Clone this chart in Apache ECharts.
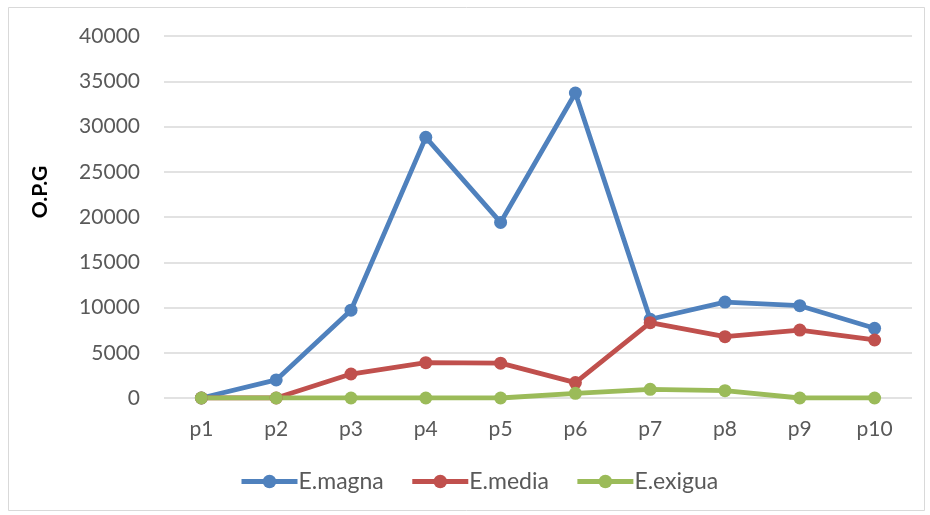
<!DOCTYPE html>
<html>
<head>
<meta charset="utf-8">
<script src="https://cdn.jsdelivr.net/npm/echarts@6/dist/echarts.min.js"></script>
<style>
  html, body { margin: 0; padding: 0; background: #fff; }
  #chart { width: 930px; height: 515px; }
</style>
</head>
<body>
<div id="chart"></div>
<script>
// Sites along the x axis
const categories = ['p1', 'p2', 'p3', 'p4', 'p5', 'p6', 'p7', 'p8', 'p9', 'p10'];

// O.P.G per species
const magna  = [0, 2000, 9700, 28800, 19400, 33700, 8700, 10600, 10200, 7700];
const media  = [0, 0, 2650, 3900, 3850, 1700, 8320, 6780, 7510, 6410];
const exigua = [0, 0, 0, 0, 0, 520, 960, 810, 0, 0];

const yTicks = { min: 0, max: 40000, interval: 5000 };
const yTitle = 'O.P.G';

const font = 'Lato, Open Sans, sans-serif';

function lineSeries(name, data, color) {
  return {
    name: name,
    type: 'line',
    data: data,
    symbol: 'circle',
    symbolSize: 13,
    lineStyle: { width: 4.8, color: color },
    itemStyle: { color: color },
    emphasis: { disabled: true }
  };
}

const chart = echarts.init(document.getElementById('chart'), null, { renderer: 'canvas' });
chart.setOption({
  animation: false,
  backgroundColor: '#ffffff',
  textStyle: { fontFamily: font },
  graphic: [
    {
      type: 'rect',
      shape: { x: 8.5, y: 7.5, width: 916, height: 503 },
      style: { fill: 'none', stroke: '#d9d9d9', lineWidth: 1 },
      silent: true
    },
    {
      // vertical axis title
      type: 'text',
      x: 40, y: 192,
      rotation: Math.PI / 2,
      style: {
        text: yTitle,
        font: 'bold 21px Lato, Open Sans, sans-serif',
        fill: '#000',
        align: 'center',
        verticalAlign: 'middle'
      },
      silent: true
    }
  ],
  grid: { left: 164, right: 18, top: 36, bottom: 117, containLabel: false },
  legend: {
    bottom: 17,
    left: 234,
    itemWidth: 56,
    itemHeight: 17,
    itemGap: 26,
    lineStyle: { width: 5 },
    textStyle: { fontSize: 23, color: '#595959', fontFamily: font, padding: [0, 0, 0, -4] },
    data: ['E.magna', 'E.media', 'E.exigua']
  },
  xAxis: {
    type: 'category',
    data: categories,
    boundaryGap: true,
    axisLine: { show: false },
    axisTick: { show: false },
    axisLabel: { fontSize: 21, color: '#595959', margin: 21, fontFamily: font }
  },
  yAxis: {
    type: 'value',
    min: yTicks.min,
    max: yTicks.max,
    interval: yTicks.interval,
    axisLine: { show: false },
    axisTick: { show: false },
    axisLabel: {
      fontSize: 21, color: '#595959', margin: 24, fontFamily: font,
      formatter: function (v) { return String(v); }
    },
    splitLine: { lineStyle: { color: '#d9d9d9', width: 1.5 } }
  },
  series: [
    lineSeries('E.magna', magna, '#4F81BD'),
    lineSeries('E.media', media, '#C0504D'),
    lineSeries('E.exigua', exigua, '#9BBB59')
  ]
});
</script>
</body>
</html>
